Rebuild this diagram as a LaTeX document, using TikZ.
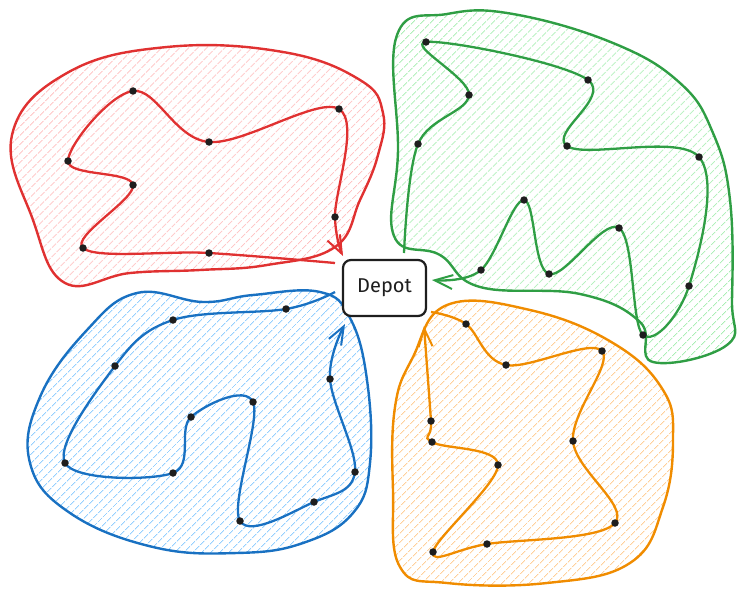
\documentclass[tikz,border=0pt]{standalone}
\usepackage{fontspec}
\newfontfamily\depotfont{Fira Sans}
\usetikzlibrary{patterns.meta,arrows.meta}
\definecolor{redS}{HTML}{E03131}
\definecolor{redH}{HTML}{FFB8B8}
\definecolor{greenS}{HTML}{2F9E44}
\definecolor{greenH}{HTML}{A3EDAE}
\definecolor{blueS}{HTML}{1971C2}
\definecolor{blueH}{HTML}{95D0FF}
\definecolor{orangeS}{HTML}{F08C00}
\definecolor{orangeH}{HTML}{FFD09A}
\definecolor{ink}{HTML}{1E1E1E}
\pgfdeclarelayer{blobs}
\pgfdeclarelayer{routes}
\pgfsetlayers{blobs,routes,main}
\begin{document}
\begin{tikzpicture}[x=1pt,y=-1pt,
  dot/.style={circle,fill=ink,inner sep=0pt,minimum size=7.5pt},
  blob/.style={line width=2.4pt,pattern={Lines[angle=45,distance=6.5pt,line width=1pt]},pattern color=#1H,draw=#1S},
  route/.style={line width=2.3pt,draw=#1S,-{Straight Barb[length=18pt,width=14pt,line width=2pt]}},
  depotbox/.style={draw=ink,line width=2.2pt,rounded corners=8pt,fill=white,minimum width=83pt,minimum height=56pt,font=\depotfont\fontsize{20}{22}\selectfont,text=ink}]
\useasboundingbox (0,0) rectangle (742,594);

% depot
\node[depotbox] (depot) at (384.5,288) {Depot};

% free ends near the depot
\coordinate (rs) at (335,263); \coordinate (re) at (343,256);
\coordinate (gs) at (404,253); \coordinate (ge) at (432,280);
\coordinate (bs) at (335,292); \coordinate (be) at (345,324);
\coordinate (os) at (431,312); \coordinate (oe) at (424,326);

% red customers
\node[dot] (r1) at (133,91) {};
\node[dot] (r2) at (209,142) {};
\node[dot] (r3) at (339,109) {};
\node[dot] (r4) at (68,161) {};
\node[dot] (r5) at (133,185) {};
\node[dot] (r6) at (335,217) {};
\node[dot] (r7) at (83,248) {};
\node[dot] (r8) at (209,253) {};
% green customers
\node[dot] (g1) at (426,42) {};
\node[dot] (g2) at (469,95) {};
\node[dot] (g3) at (588,80) {};
\node[dot] (g4) at (418,144) {};
\node[dot] (g5) at (567,146) {};
\node[dot] (g6) at (699,157) {};
\node[dot] (g7) at (524,200) {};
\node[dot] (g8) at (481,270) {};
\node[dot] (g9) at (549,274) {};
\node[dot] (g10) at (619,228) {};
\node[dot] (g11) at (689,286) {};
\node[dot] (g12) at (643,335) {};
% blue customers
\node[dot] (b1) at (173,320) {};
\node[dot] (b2) at (286,309) {};
\node[dot] (b3) at (115,366) {};
\node[dot] (b4) at (330,379) {};
\node[dot] (b5) at (253,402) {};
\node[dot] (b6) at (191,417) {};
\node[dot] (b7) at (65,463) {};
\node[dot] (b8) at (173,473) {};
\node[dot] (b9) at (355,472) {};
\node[dot] (b10) at (314,502) {};
\node[dot] (b11) at (240,521) {};
% orange customers
\node[dot] (o1) at (466,324) {};
\node[dot] (o2) at (506,365) {};
\node[dot] (o3) at (602,351) {};
\node[dot] (o4) at (431,421) {};
\node[dot] (o5) at (432,442) {};
\node[dot] (o6) at (573,441) {};
\node[dot] (o7) at (498,465) {};
\node[dot] (o8) at (615,523) {};
\node[dot] (o9) at (487,544) {};
\node[dot] (o10) at (433,552) {};

\begin{pgfonlayer}{blobs}
\draw[blob=red] plot[smooth cycle,tension=0.7] coordinates {
  (12,135) (67,73) (167,47) (283,52) (360,80) (383,113) (378,155) (360,200)
  (335,247) (267,265) (200,270) (130,273) (65,283) (33,220)};
\draw[blob=green] plot[smooth cycle,tension=0.7] coordinates {
  (397,35) (447,14) (513,14) (613,43) (680,83) (713,133) (730,200) (732,300)
  (727,345) (653,362) (640,322) (580,294) (480,287) (440,255) (394,236) (398,150)};
\draw[blob=blue] plot[smooth cycle,tension=0.7] coordinates {
  (137,293) (203,302) (253,295) (320,292) (350,318) (367,380) (370,463) (353,513)
  (303,543) (237,553) (153,547) (70,513) (30,463) (40,397) (87,330)};
\draw[blob=orange] plot[smooth cycle,tension=0.7] coordinates {
  (447,305) (530,310) (613,343) (663,390) (673,440) (663,507) (630,563) (547,583)
  (447,583) (400,567) (393,490) (395,407) (413,357)};
\end{pgfonlayer}

\begin{pgfonlayer}{routes}
\draw[route=red] plot[smooth,tension=0.6] coordinates {
  (rs) (r8) (r7) (r5) (r4) (r1) (r2) (r3) (r6) (re)};
\draw[route=green] plot[smooth,tension=0.6] coordinates {
  (gs) (g4) (g2) (g1) (g3) (g5) (g6) (g11) (g12) (g10) (g9) (g7) (g8) (ge)};
\draw[route=blue] plot[smooth,tension=0.6] coordinates {
  (bs) (b2) (b1) (b3) (b7) (b8) (b6) (b5) (b11) (b10) (b9) (b4) (be)};
\draw[route=orange] plot[smooth,tension=0.6] coordinates {
  (os) (o1) (o2) (o3) (o6) (o8) (o9) (o10) (o7) (o5) (o4) (oe)};
\end{pgfonlayer}
\end{tikzpicture}
\end{document}
